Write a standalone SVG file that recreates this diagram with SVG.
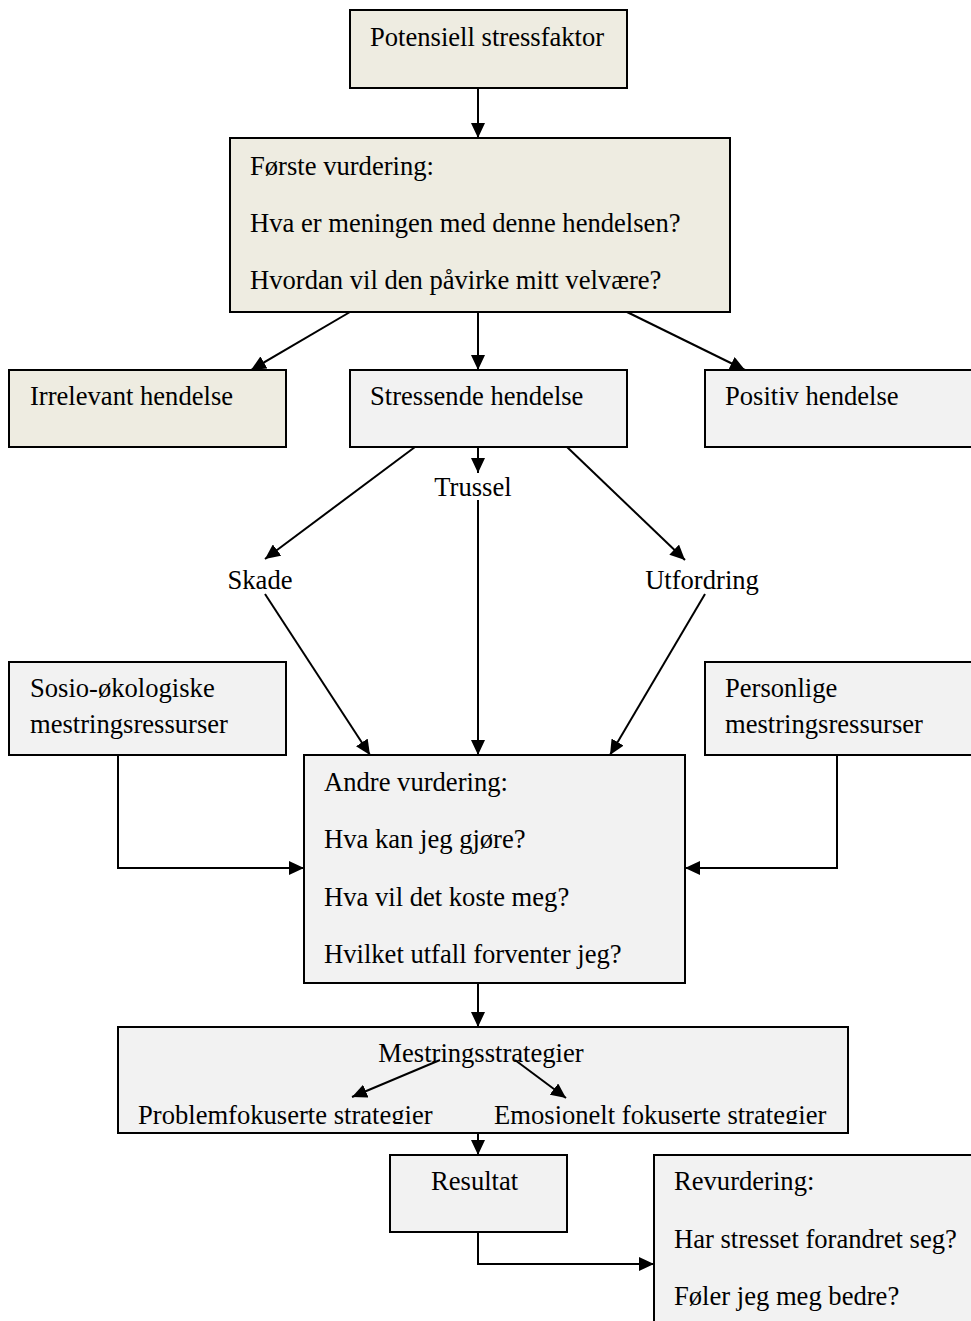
<svg xmlns="http://www.w3.org/2000/svg" width="971" height="1321" viewBox="0 0 971 1321">
<style>
.box{stroke:#000;stroke-width:2}
.beige{fill:#EEECE1}
.gray{fill:#F2F2F2}
text{font-family:"Liberation Serif","Times New Roman",serif;font-size:26.6px;fill:#000}
.c{fill:none;stroke:#000;stroke-width:2}
</style>
<defs>
<marker id="ah" markerUnits="userSpaceOnUse" markerWidth="15" markerHeight="14" refX="15" refY="7" orient="auto">
<path d="M0,0 L15,7 L0,14 z" fill="#000"/>
</marker>
<clipPath id="mclip"><rect x="118" y="1027" width="730" height="97"/></clipPath>
</defs>
<rect width="971" height="1321" fill="#fff"/>

<g id="connectors">
<line class="c" x1="478" y1="88" x2="478" y2="138" marker-end="url(#ah)"/>
<line class="c" x1="350" y1="312" x2="251" y2="370" marker-end="url(#ah)"/>
<line class="c" x1="478" y1="312" x2="478" y2="370" marker-end="url(#ah)"/>
<line class="c" x1="627" y1="312" x2="745" y2="370" marker-end="url(#ah)"/>
<line class="c" x1="478" y1="447" x2="478" y2="473" marker-end="url(#ah)"/>
<line class="c" x1="415" y1="447" x2="265" y2="559" marker-end="url(#ah)"/>
<line class="c" x1="567" y1="447" x2="685" y2="560" marker-end="url(#ah)"/>
<line class="c" x1="478" y1="500" x2="478" y2="755" marker-end="url(#ah)"/>
<line class="c" x1="265" y1="594" x2="370" y2="755" marker-end="url(#ah)"/>
<line class="c" x1="705" y1="594" x2="610" y2="755" marker-end="url(#ah)"/>
<polyline class="c" points="118,755 118,868 304,868" marker-end="url(#ah)"/>
<polyline class="c" points="837,755 837,868 685,868" marker-end="url(#ah)"/>
<line class="c" x1="478" y1="983" x2="478" y2="1027" marker-end="url(#ah)"/>
<line class="c" x1="478" y1="1133" x2="478" y2="1155" marker-end="url(#ah)"/>
<polyline class="c" points="478,1232 478,1264 654,1264" marker-end="url(#ah)"/>
</g>

<g id="potensiell">
<rect class="box beige" x="350" y="10" width="277" height="78"/>
<text x="370" y="46">Potensiell stressfaktor</text>
</g>
<g id="forste">
<rect class="box beige" x="230" y="138" width="500" height="174"/>
<text x="250" y="175">Første vurdering:</text>
<text x="250" y="232">Hva er meningen med denne hendelsen?</text>
<text x="250" y="289">Hvordan vil den påvirke mitt velvære?</text>
</g>
<g id="irrelevant">
<rect class="box beige" x="9" y="370" width="277" height="77"/>
<text x="30" y="405">Irrelevant hendelse</text>
</g>
<g id="stressende">
<rect class="box gray" x="350" y="370" width="277" height="77"/>
<text x="370" y="405">Stressende hendelse</text>
</g>
<g id="positiv">
<rect class="box gray" x="705" y="370" width="270" height="77"/>
<text x="725" y="405">Positiv hendelse</text>
</g>
<g id="trussel"><text x="473" y="496" text-anchor="middle">Trussel</text></g>
<g id="skade"><text x="260" y="589" text-anchor="middle">Skade</text></g>
<g id="utfordring"><text x="702" y="589" text-anchor="middle">Utfordring</text></g>
<g id="sosio">
<rect class="box gray" x="9" y="662" width="277" height="93"/>
<text x="30" y="697">Sosio-økologiske</text>
<text x="30" y="733">mestringsressurser</text>
</g>
<g id="personlige">
<rect class="box gray" x="705" y="662" width="270" height="93"/>
<text x="725" y="697">Personlige</text>
<text x="725" y="733">mestringsressurser</text>
</g>
<g id="andre">
<rect class="box gray" x="304" y="755" width="381" height="228"/>
<text x="324" y="791">Andre vurdering:</text>
<text x="324" y="848">Hva kan jeg gjøre?</text>
<text x="324" y="906">Hva vil det koste meg?</text>
<text x="324" y="963">Hvilket utfall forventer jeg?</text>
</g>
<g id="mestring">
<rect class="box gray" x="118" y="1027" width="730" height="106"/>
<g clip-path="url(#mclip)">
<text x="481" y="1062" text-anchor="middle">Mestringsstrategier</text>
<text x="138" y="1124">Problemfokuserte strategier</text>
<text x="494" y="1124">Emosjonelt fokuserte strategier</text>
</g>
<line class="c" x1="440" y1="1060" x2="352" y2="1097" marker-end="url(#ah)"/>
<line class="c" x1="515" y1="1060" x2="566" y2="1098" marker-end="url(#ah)"/>
</g>
<g id="resultat">
<rect class="box gray" x="390" y="1155" width="177" height="77"/>
<text x="431" y="1190">Resultat</text>
</g>
<g id="revurdering">
<rect class="box gray" x="654" y="1155" width="321" height="175"/>
<text x="674" y="1190">Revurdering:</text>
<text x="674" y="1248">Har stresset forandret seg?</text>
<text x="674" y="1305">Føler jeg meg bedre?</text>
</g>
</svg>
